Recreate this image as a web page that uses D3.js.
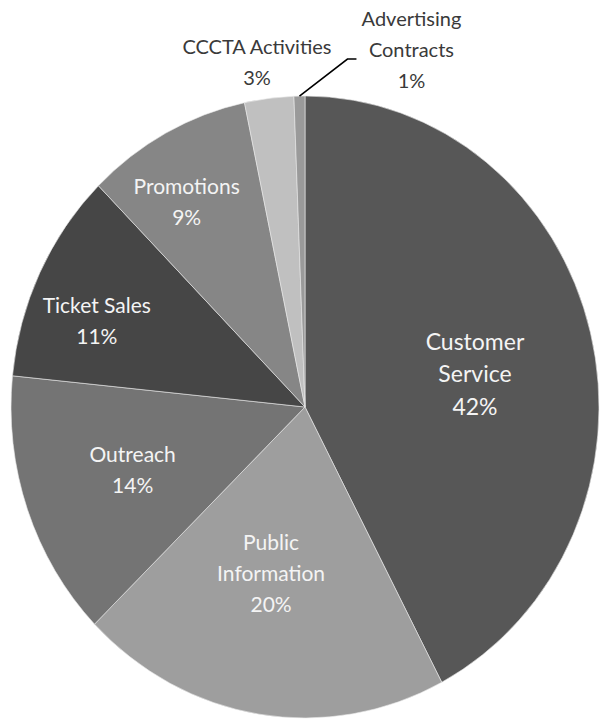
<!DOCTYPE html>
<html>
<head>
<meta charset="utf-8">
<script src="https://cdn.jsdelivr.net/npm/d3@7"></script>
<style>
  html, body { margin: 0; padding: 0; background: #fff; }
  svg { display: block; }
</style>
</head>
<body>
<svg></svg>
<script>
// slices, clockwise from 12 o'clock
var categories = ["Customer Service", "Public Information", "Outreach", "Ticket Sales",
                  "Promotions", "CCCTA Activities", "Advertising Contracts"];
var values = [42.3, 20.4, 13.9, 11.0, 9.1, 2.7, 0.6];
var shades = ["#575757", "#9e9e9e", "#747474", "#464646", "#868686", "#c0c0c0", "#9a9a9a"];
// how each label is split into lines
var labelLines = [["Customer", "Service"], ["Public", "Information"], ["Outreach"], ["Ticket Sales"],
                  ["Promotions"], ["CCCTA Activities"], ["Advertising", "Contracts"]];

var width = 600,
    height = 719;
var cx = 305, cy = 407,
    radius = 294,
    squash = 311 / 294;   // the original pie is a little taller than wide

var svg = d3.select("svg")
    .attr("width", width)
    .attr("height", height);

var data = categories.map(function(c, i) {
    return { name: c, value: values[i], color: shades[i], lines: labelLines[i] };
});

var pie = d3.pie()
    .sort(null)
    .value(function(d) { return d.value; });
var arcs = pie(data);

var arc = d3.arc().innerRadius(0).outerRadius(radius);

var g = svg.append("g")
    .attr("transform", "translate(" + cx + "," + cy + ")");

g.append("g")
    .attr("transform", "scale(1," + squash + ")")
    .selectAll("path")
    .data(arcs)
    .enter()
    .append("path")
    .attr("d", arc)
    .attr("fill", function(d) { return d.data.color; })
    .attr("stroke", "#e8e8e8")
    .attr("stroke-width", 0.6);

// point on the (squashed) pie for an angle and radius
function at(angle, r) {
    return [Math.sin(angle) * r, -Math.cos(angle) * r * squash];
}

var fmt = function(v) { return Math.round(v) + "%"; };
var font = "Lato, 'Open Sans', sans-serif";

// excel's "best fit" shoves a few labels off the centroid
var nudge = {
    "Customer Service": [3, 11],
    "Public Information": [-7, -13],
    "Outreach": [-10, 3],
    "Ticket Sales": [4, 21],
    "Promotions": [-7, 14],
    "CCCTA Activities": [-8, 0],
    "Advertising Contracts": [0, -3]
};

// inside labels
var inside = arcs.filter(function(d) { return d.data.value >= 5; });
inside.forEach(function(d) {
    var mid = (d.startAngle + d.endAngle) / 2;
    var r = d.data.value >= 13 ? 0.585 * radius : 0.8 * radius;
    var p = at(mid, r);
    var n = nudge[d.data.name] || [0, 0];
    var big = d.data.value > 30;
    var lines = d.data.lines.concat([fmt(d.data.value)]);
    var lh = big ? 32.5 : 31;
    var t = g.append("text")
        .attr("font-family", font)
        .attr("font-size", big ? 23 : 21)
        .attr("fill", "#f4f4f4")
        .attr("text-anchor", "middle");
    lines.forEach(function(s, i) {
        t.append("tspan")
            .attr("x", p[0] + n[0])
            .attr("y", p[1] + n[1] + (i - (lines.length - 1) / 2) * lh)
            .attr("dy", "0.35em")
            .text(s);
    });
});

// outside labels
var outside = arcs.filter(function(d) { return d.data.value < 5; });
outside.forEach(function(d, k) {
    var mid = (d.startAngle + d.endAngle) / 2;
    var lines = d.data.lines.concat([fmt(d.data.value)]);
    var n = nudge[d.data.name] || [0, 0];
    var lh = 31;
    var p, anchorX;
    if (k === 0) {
        p = at(mid, 1.115 * radius);
        anchorX = p[0] + n[0];
    } else {
        // thin slice: leader line with an elbow, label pushed right
        var edge = at(mid, radius);
        var elbow = [edge[0] + 48, edge[1] - 37];
        var end = [elbow[0] + 9, elbow[1]];
        g.append("path")
            .attr("d", d3.line()([edge, elbow, end]))
            .attr("fill", "none")
            .attr("stroke", "#000")
            .attr("stroke-width", 1.6);
        p = [end[0] + 10, elbow[1] - 6];
        anchorX = p[0] + 45;
    }
    var t = g.append("text")
        .attr("font-family", font)
        .attr("font-size", 20)
        .attr("fill", "#3a3a3a")
        .attr("text-anchor", "middle");
    lines.forEach(function(s, i) {
        t.append("tspan")
            .attr("x", anchorX)
            .attr("y", p[1] + n[1] + (i - (lines.length - 1) / 2) * lh)
            .attr("dy", "0.35em")
            .text(s);
    });
});
</script>
</body>
</html>
